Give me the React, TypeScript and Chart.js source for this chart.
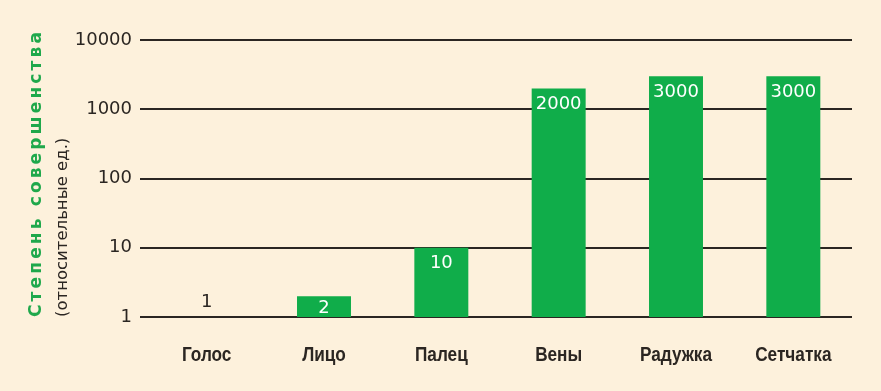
import React, { useEffect, useRef } from "react";
import { Chart, registerables } from "chart.js";

Chart.register(...registerables);

const categories = ["Голос", "Лицо", "Палец", "Вены", "Радужка", "Сетчатка"];
const values = [1, 2, 10, 2000, 3000, 3000];
const valueLabels = ["1", "2", "10", "2000", "3000", "3000"];
const yTicks = [1, 10, 100, 1000, 10000];
const titleMain = "Степень совершенства";
const titleSub = "(относительные ед.)";

const BG = "#fdf1dc";
const GREEN = "#10ad4a";
const TITLE_GREEN = "#1fa84b";
const DARK = "#2b2622";

export default function App() {
  const ref = useRef<HTMLCanvasElement | null>(null);

  useEffect(() => {
    document.body.style.margin = "0";
    const canvas = ref.current;
    if (!canvas) return;

    const barLabels = {
      id: "barLabels",
      afterDatasetsDraw(chart: any) {
        const ctx = chart.ctx;
        const meta = chart.getDatasetMeta(0);
        ctx.save();
        ctx.font = "18px 'DejaVu Sans'";
        ctx.textAlign = "center";
        ctx.textBaseline = "middle";
        meta.data.forEach((bar: any, i: number) => {
          const base = bar.base;
          const h = base - bar.y;
          let cy: number;
          if (h < 3) {
            ctx.fillStyle = DARK;
            cy = base - 15;
          } else {
            ctx.fillStyle = "#ffffff";
            cy = Math.min(bar.y + 16, base - 9);
          }
          ctx.fillText(valueLabels[i], bar.x, cy);
        });
        ctx.restore();
      },
    };

    // condensed category labels (the reference uses a narrow bold face)
    const categoryLabels = {
      id: "categoryLabels",
      afterDraw(chart: any) {
        const ctx = chart.ctx;
        const xScale = chart.scales.x;
        ctx.save();
        ctx.font = "bold 20px 'Liberation Sans'";
        ctx.fillStyle = DARK;
        ctx.textAlign = "center";
        ctx.textBaseline = "alphabetic";
        categories.forEach((c, i) => {
          const x = xScale.getPixelForValue(i);
          ctx.save();
          ctx.translate(x, 361);
          ctx.scale(0.86, 1);
          ctx.fillText(c, 0, 0);
          ctx.restore();
        });
        ctx.restore();
      },
    };

    const axisTitle = {
      id: "axisTitle",
      afterDraw(chart: any) {
        const ctx = chart.ctx;
        const bottom = chart.chartArea.bottom;
        ctx.save();
        ctx.font = "bold 17px 'DejaVu Sans'";
        const natural = ctx.measureText(titleMain).width;
        const spacing = Math.max(0, (285 - natural) / (titleMain.length - 1));
        ctx.translate(40.5, bottom);
        ctx.rotate(-Math.PI / 2);
        (ctx as any).letterSpacing = spacing.toFixed(2) + "px";
        ctx.fillStyle = TITLE_GREEN;
        ctx.textAlign = "left";
        ctx.textBaseline = "alphabetic";
        ctx.fillText(titleMain, 0, 0);
        ctx.restore();

        ctx.save();
        ctx.font = "16.5px 'DejaVu Sans'";
        ctx.translate(66.5, bottom);
        ctx.rotate(-Math.PI / 2);
        ctx.fillStyle = DARK;
        ctx.textAlign = "left";
        ctx.textBaseline = "alphabetic";
        ctx.fillText(titleSub, 0, 0);
        ctx.restore();
      },
    };

    const chart = new Chart(canvas, {
      type: "bar",
      data: {
        labels: categories,
        datasets: [
          {
            data: values,
            backgroundColor: GREEN,
            borderWidth: 0,
            barPercentage: 0.46,
            categoryPercentage: 1,
          },
        ],
      },
      options: {
        responsive: false,
        animation: false,
        events: [],
        layout: { padding: { left: 0, right: 29, top: 40, bottom: 0 } },
        plugins: {
          legend: { display: false },
          tooltip: { enabled: false },
        },
        scales: {
          x: {
            type: "category",
            grid: { display: false, drawTicks: false },
            border: { display: false },
            ticks: { display: false },
            afterFit(scale: any) {
              scale.height = 74;
            },
          },
          y: {
            type: "logarithmic",
            min: 1,
            max: 10000,
            border: { display: false },
            grid: {
              color: DARK,
              lineWidth: 2,
              drawTicks: true,
              tickLength: 8,
              tickColor: DARK,
              tickWidth: 2,
            },
            afterBuildTicks(scale: any) {
              scale.ticks = yTicks.map((v) => ({ value: v }));
            },
            ticks: {
              color: DARK,
              padding: 8,
              font: { family: "'DejaVu Sans'", size: 18 },
              callback: (v: any) => String(v),
            },
            afterFit(scale: any) {
              scale.width = 148;
            },
          },
        },
      },
      plugins: [barLabels, categoryLabels, axisTitle],
    });

    return () => chart.destroy();
  }, []);

  return (
    <div style={{ width: 881, height: 391, background: BG }}>
      <canvas ref={ref} width={881} height={391} style={{ display: "block" }} />
    </div>
  );
}
